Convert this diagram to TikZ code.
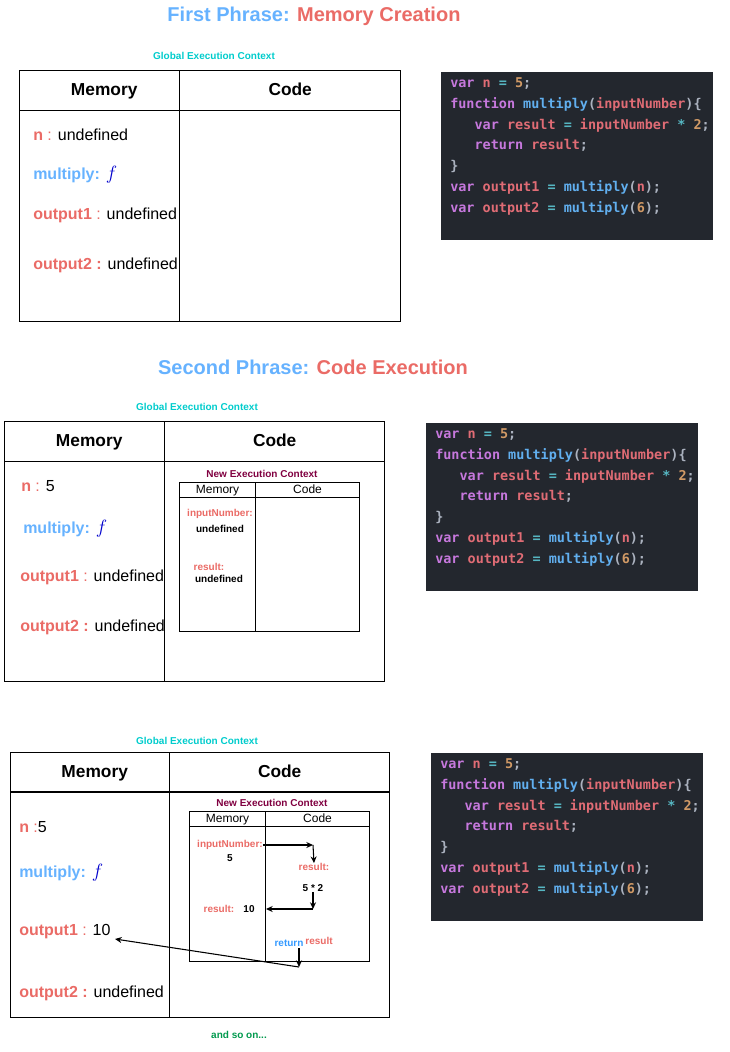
\documentclass[tikz,border=0pt]{standalone}
\usepackage{fontspec}
\setmainfont{Liberation Sans}
\newfontfamily\codefont{DejaVu Sans Mono}
\usetikzlibrary{positioning,arrows.meta}

\newlength{\pxu}
\setlength{\pxu}{0.75pt}

\definecolor{titleblue}{RGB}{102,178,255}
\definecolor{memred}{RGB}{234,107,102}
\definecolor{gecyan}{RGB}{0,204,204}
\definecolor{necmaroon}{RGB}{128,0,64}
\definecolor{fblue}{RGB}{0,0,204}
\definecolor{retblue}{RGB}{51,153,255}
\definecolor{ongreen}{RGB}{0,153,77}
\definecolor{codebg}{RGB}{35,39,46}
\definecolor{kwpurple}{RGB}{198,120,221}
\definecolor{idred}{RGB}{224,108,117}
\definecolor{opcyan}{RGB}{86,182,194}
\definecolor{numorange}{RGB}{209,154,102}
\definecolor{fnblue}{RGB}{97,175,239}
\definecolor{pugray}{RGB}{171,178,191}

% memory entries
\newcommand{\vname}[1]{\textcolor{memred}{\bfseries #1}}
\newcommand{\vsep}{\textcolor{memred}{:}}
\newcommand{\fsym}{\textcolor{fblue}{\fontsize{14}{14}\selectfont$f$}}
\newcommand{\multkey}{\textcolor{titleblue}{\bfseries multiply:}}

% code highlighting
\newcommand{\codesetup}{\codefont\bfseries\fontsize{10.1}{15.7}\selectfont}
\newcommand{\jkw}[1]{\textcolor{kwpurple}{#1}}
\newcommand{\jid}[1]{\textcolor{idred}{#1}}
\newcommand{\jop}[1]{\textcolor{opcyan}{#1}}
\newcommand{\jnum}[1]{\textcolor{numorange}{#1}}
\newcommand{\jfn}[1]{\textcolor{fnblue}{#1}}
\newcommand{\jpu}[1]{\textcolor{pugray}{#1}}
\newcommand{\jscode}{%
\leftskip=9\pxu
\spaceskip=\fontcharwd\font`x\relax\xspaceskip=\spaceskip\frenchspacing
\strut\jkw{var} \jid{n} \jop{=} \jnum{5}\jpu{;}\\
\jkw{function} \jfn{multiply}\jpu{(}\jid{inputNumber}\jpu{)\{}\\
\ \ \ \jkw{var} \jid{result} \jop{=} \jid{inputNumber} \jop{*} \jnum{2}\jpu{;}\\
\ \ \ \jkw{return} \jid{result}\jpu{;}\\
\jpu{\}}\\
\jkw{var} \jid{output1} \jop{=} \jfn{multiply}\jpu{(}\jid{n}\jpu{);}\\
\jkw{var} \jid{output2} \jop{=} \jfn{multiply}\jpu{(}\jnum{6}\jpu{);}\\
\strut}

\tikzset {
    phrase title/.style={
        font=\bfseries\fontsize{15}{18}\selectfont,
    },
    gec label/.style={
        text=gecyan,
        font=\bfseries\fontsize{7.5}{9}\selectfont,
    },
    nec label/.style={
        text=necmaroon,
        font=\bfseries\fontsize{7.5}{9}\selectfont,
    },
    head cell/.style={
        draw=black,
        line width=1pt,
        rectangle,
        anchor=north west,
        minimum height=40\pxu,
        text height=9.5pt,
        text depth=2.7pt,
        font=\bfseries\fontsize{13}{15}\selectfont,
    },
    body cell/.style={
        draw=black,
        line width=1pt,
        rectangle,
        anchor=north west,
    },
    small head/.style={
        draw=black,
        line width=0.8pt,
        rectangle,
        anchor=north west,
        inner sep=0pt,
        text height=6.6pt,
        text depth=1.9pt,
        font=\fontsize{9}{10}\selectfont,
    },
    small body/.style={
        draw=black,
        line width=0.8pt,
        rectangle,
        anchor=north west,
    },
    entry/.style={
        anchor=west,
        inner sep=0pt,
        font=\fontsize{12}{14}\selectfont,
    },
    tiny key/.style={
        text=memred,
        inner sep=0pt,
        font=\bfseries\fontsize{7.5}{9}\selectfont,
    },
    tiny val/.style={
        inner sep=0pt,
        font=\bfseries\fontsize{7.5}{9}\selectfont,
    },
    code box/.style={
        fill=codebg,
        anchor=north west,
        rectangle,
        align=left,
        inner xsep=0pt,
        inner ysep=0pt,
        text width=272\pxu,
        minimum height=168\pxu,
        font=\codesetup,
    },
}

\begin{document}
\begin{tikzpicture}[x=\pxu, y=-\pxu, >={Stealth[length=5pt,width=4.5pt]}]
\useasboundingbox (0,0) rectangle (730,1052);

% first phrase
\node[phrase title] (title1) at (314,16) {\textcolor{titleblue}{First Phrase:} \textcolor{memred}{Memory Creation}};
\node[gec label] (gec1) at (214,56) {Global Execution Context};
\node[head cell, minimum width=160\pxu] (memhead1) at (19,70) {\hspace*{9\pxu}Memory};
\node[head cell, minimum width=221\pxu] (codehead1) at (179,70) {Code};
\node[body cell, minimum width=160\pxu, minimum height=211\pxu] (membody1) at (19,110) {};
\node[body cell, minimum width=221\pxu, minimum height=211\pxu] (codebody1) at (179,110) {};

\node[entry] (n1) at (33,135) {\vname{n} \vsep{} undefined};
\node[entry] (mult1) at (33,175) {\multkey{} \fsym};
\node[entry] (outa1) at (33,215) {\vname{output1} \vsep{} undefined};
\node[entry] (outb1) at (33,265) {\vname{output2 :} undefined};

\node[code box] (code1) at (441,72) {\jscode};

% second phrase
\node[phrase title] (title2) at (313,367) {\textcolor{titleblue}{Second Phrase:} \textcolor{memred}{Code Execution}};
\node[gec label] (gec2) at (197,407) {Global Execution Context};
\node[head cell, minimum width=160\pxu] (memhead2) at (4,421) {\hspace*{9\pxu}Memory};
\node[head cell, minimum width=220\pxu] (codehead2) at (164,421) {Code};
\node[body cell, minimum width=160\pxu, minimum height=220\pxu] (membody2) at (4,461) {};
\node[body cell, minimum width=220\pxu, minimum height=220\pxu] (codebody2) at (164,461) {};

\node[entry] (n2) at (21,486) {\vname{n} \vsep{} 5};
\node[entry] (mult2) at (23,529) {\multkey{} \fsym};
\node[entry] (outa2) at (20,577) {\vname{output1} \vsep{} undefined};
\node[entry] (outb2) at (20,627) {\vname{output2 :} undefined};

\node[nec label] (nec2) at (262,474) {New Execution Context};
\node[small head, minimum width=76\pxu, minimum height=15\pxu] (smemhead2) at (179,482) {Memory};
\node[small head, minimum width=104\pxu, minimum height=15\pxu] (scodehead2) at (255,482) {Code};
\node[small body, minimum width=76\pxu, minimum height=134\pxu] (smembody2) at (179,497) {};
\node[small body, minimum width=104\pxu, minimum height=134\pxu] (scodebody2) at (255,497) {};

\node[tiny key] (inum2) at (220,514) {inputNumber:};
\node[tiny val] (undefa2) at (220,529) {undefined};
\node[tiny key] (res2) at (209,567) {result:};
\node[tiny val] (undefb2) at (219,579) {undefined};

\node[code box] (code2) at (426,423) {\jscode};

% third step
\node[gec label] (gec3) at (197,741) {Global Execution Context};
\node[head cell, minimum width=159\pxu] (memhead3) at (10,752) {\hspace*{9\pxu}Memory};
\node[head cell, minimum width=220\pxu] (codehead3) at (169,752) {Code};
\node[body cell, minimum width=159\pxu, minimum height=226\pxu] (membody3) at (10,791) {};
\node[body cell, minimum width=220\pxu, minimum height=226\pxu] (codebody3) at (169,791) {};

\node[entry] (n3) at (19,827) {\vname{n} \vsep5};
\node[entry] (mult3) at (19,873) {\multkey{} \fsym};
\node[entry] (outa3) at (19,932) {\vname{output1} \vsep{} 10};
\node[entry] (outb3) at (19,993) {\vname{output2 :} undefined};

\node[nec label] (nec3) at (272,803) {New Execution Context};
\node[small head, minimum width=76\pxu, minimum height=15\pxu] (smemhead3) at (189,811) {Memory};
\node[small head, minimum width=104\pxu, minimum height=15\pxu] (scodehead3) at (265,811) {Code};
\node[small body, minimum width=76\pxu, minimum height=135\pxu] (smembody3) at (189,826) {};
\node[small body, minimum width=104\pxu, minimum height=135\pxu] (scodebody3) at (265,826) {};

\node[tiny key] (inum3) at (230,845) {inputNumber:};
\node[tiny val] (five3) at (230,858) {5};
\node[tiny key] (rescode3) at (314,867) {result:};
\node[tiny val] (calc3) at (313,888) {5 * 2};
\node[tiny key] (resmem3) at (219,909) {result:};
\node[tiny val] (ten3) at (249,909) {10};
\node[tiny val, text=retblue] (ret3) at (289,943) {return};
\node[tiny key] (retres3) at (319,941) {result};

\node[tiny val, text=ongreen] (more3) at (239,1035) {and so on...};

\node[code box] (code3) at (431,753) {\jscode};

\coordinate (turnA) at (313,845);
\coordinate (turnB) at (313,909);
\coordinate (intoMem) at (266,909);
\coordinate (retA) at (299,948);
\coordinate (retB) at (299,967);
\coordinate (intoOut) at (115,939);

\draw[thick, ->] (inum3.east) -- (turnA);
\draw[thick, ->] (turnA) -- (rescode3.north);
\draw[thick, ->] (calc3.south) -- (turnB);
\draw[thick, ->] (turnB) -- (intoMem);
\draw[thick, ->] (retA) -- (retB);
\draw[thick, ->] (retB) -- (intoOut);
\end{tikzpicture}
\end{document}
